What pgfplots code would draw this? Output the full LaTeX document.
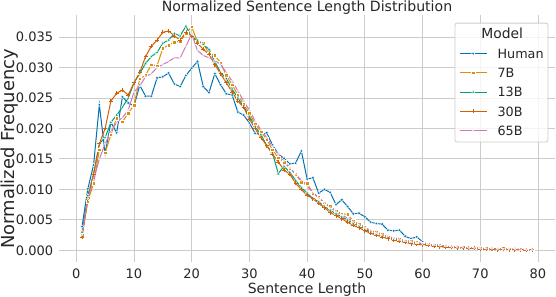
\documentclass[border=0pt]{standalone}
\usepackage{fontspec}
\setmainfont{DejaVu Sans}
\usepackage{pgfplots}
\usepackage{pgfplotstable}
\pgfplotsset{compat=1.18}
\definecolor{cHum}{HTML}{0173B2}
\definecolor{cSeven}{HTML}{DE8F05}
\definecolor{cThirteen}{HTML}{029E73}
\definecolor{cThirty}{HTML}{D55E00}
\definecolor{cSixtyFive}{HTML}{CC78BC}
\definecolor{gridc}{HTML}{CCCCCC}
\definecolor{txt}{HTML}{262626}

\pgfplotstableread{
x human b7 b13 b30 b65
1 0.0039 0.0025 0.0030 0.0022 0.0025
2 0.0101 0.0080 0.0090 0.0085 0.0085
3 0.0140 0.0110 0.0125 0.0125 0.0115
4 0.0239 0.0165 0.0175 0.0175 0.0150
5 0.0159 0.0160 0.0185 0.0200 0.0175
6 0.0210 0.0190 0.0210 0.0245 0.0195
7 0.0193 0.0217 0.0222 0.0258 0.0210
8 0.0252 0.0211 0.0235 0.0263 0.0218
9 0.0242 0.0225 0.0250 0.0255 0.0230
10 0.0237 0.0238 0.0275 0.0275 0.0260
11 0.0271 0.0282 0.0290 0.0292 0.0270
12 0.0253 0.0287 0.0307 0.0318 0.0285
13 0.0253 0.0305 0.0318 0.0335 0.0290
14 0.0283 0.0303 0.0325 0.0345 0.0300
15 0.0285 0.0332 0.0340 0.0358 0.0305
16 0.0291 0.0337 0.0345 0.0360 0.0310
17 0.0273 0.0342 0.0356 0.0352 0.0316
18 0.0269 0.0343 0.0352 0.0345 0.0316
19 0.0287 0.0356 0.0368 0.0358 0.0335
20 0.0299 0.0367 0.0350 0.0352 0.0355
21 0.0310 0.0342 0.0345 0.0340 0.0328
22 0.0269 0.0340 0.0338 0.0330 0.0320
23 0.0259 0.0323 0.0330 0.0322 0.0316
24 0.0290 0.0320 0.0310 0.0305 0.0312
25 0.0272 0.0308 0.0292 0.0290 0.0305
26 0.0257 0.0287 0.0282 0.0275 0.0292
27 0.0255 0.0272 0.0265 0.0260 0.0278
28 0.0227 0.0255 0.0250 0.0245 0.0262
29 0.0222 0.0240 0.0236 0.0235 0.0245
30 0.0209 0.0225 0.0220 0.0215 0.0230
31 0.0192 0.0208 0.0203 0.0200 0.0212
32 0.0190 0.0195 0.0190 0.0185 0.0198
33 0.0193 0.0182 0.0172 0.0172 0.0185
34 0.0173 0.0165 0.0160 0.0158 0.0170
35 0.0158 0.0152 0.0126 0.0145 0.0158
36 0.0151 0.0145 0.0138 0.0132 0.0147
37 0.0142 0.0135 0.0128 0.0125 0.0135
38 0.0143 0.0125 0.0115 0.0110 0.0125
39 0.0163 0.0112 0.0103 0.0100 0.0115
40 0.0117 0.0110 0.0094 0.0090 0.0105
41 0.0119 0.0094 0.0085 0.0085 0.0095
42 0.0094 0.0087 0.0080 0.0077 0.0086
43 0.0100 0.0078 0.0072 0.0070 0.0078
44 0.0095 0.0072 0.0066 0.0062 0.0070
45 0.0075 0.0065 0.0060 0.0057 0.0064
46 0.0083 0.0060 0.0055 0.0052 0.0058
47 0.0072 0.0059 0.0050 0.0046 0.0053
48 0.0060 0.0048 0.0044 0.0041 0.0047
49 0.0061 0.0043 0.0040 0.0037 0.0042
50 0.0055 0.0038 0.0035 0.0032 0.0037
51 0.0046 0.0031 0.0029 0.0028 0.0033
52 0.0044 0.0030 0.0027 0.0025 0.0029
53 0.0043 0.0026 0.0023 0.0022 0.0026
54 0.0033 0.0022 0.0021 0.0019 0.0023
55 0.0032 0.0021 0.0019 0.0017 0.0020
56 0.0033 0.0018 0.0016 0.0015 0.0018
57 0.0023 0.0016 0.0014 0.0013 0.0016
58 0.0019 0.0015 0.0013 0.0011 0.0014
59 0.0022 0.0013 0.0011 0.0010 0.0012
60 0.0014 0.0011 0.0010 0.0009 0.0011
61 0.0009 0.0010 0.0009 0.0008 0.0010
62 0.0008 0.0008 0.0008 0.0007 0.0009
63 0.0009 0.0008 0.0006 0.0006 0.0008
64 0.0006 0.0007 0.0006 0.0005 0.0007
65 0.0005 0.0006 0.0005 0.0005 0.0006
66 0.0004 0.0005 0.0005 0.0004 0.0005
67 0.0004 0.0005 0.0004 0.0004 0.0005
68 0.0003 0.0004 0.0003 0.0003 0.0004
69 0.0003 0.0004 0.0004 0.0003 0.0004
70 0.0002 0.0003 0.0003 0.0002 0.0003
71 0.0002 0.0003 0.0002 0.0002 0.0003
72 0.0003 0.0002 0.0003 0.0002 0.0003
73 0.0002 0.0002 0.0002 0.0001 0.0002
74 0.0001 0.0003 0.0002 0.0002 0.0002
75 0.0002 0.0002 0.0001 0.0001 0.0002
76 0.0001 0.0001 0.0002 0.0001 0.0002
77 nan 0.0002 0.0001 0.0001 0.0001
78 nan 0.0001 0.0001 0.0000 0.0001
79 nan 0.0001 0.0001 0.0001 0.0001
}\datatable

\begin{document}
\begin{tikzpicture}
\begin{axis}[
  scale only axis,
  clip=false,
  width=495.4pt, height=246.3pt,
  xmin=-2.94, xmax=82.9,
  ymin=-0.00184, ymax=0.0386,
  xtick={0,10,20,30,40,50,60,70,80},
  ytick={0,0.005,0.01,0.015,0.02,0.025,0.03,0.035},
  scaled y ticks=false,
  /pgf/number format/assume math mode=true,
  tick label style={font=\fontsize{13}{15}\selectfont, text=txt, inner sep=0pt},
  xticklabel style={anchor=north},
  yticklabel style={anchor=east, /pgf/number format/fixed, /pgf/number format/fixed zerofill, /pgf/number format/precision=3},
  xticklabel shift=6.8pt,
  yticklabel shift=6pt,
  major tick length=0pt,
  axis line style={draw=none},
  grid=major,
  major grid style={draw=gridc, line width=0.9pt},
  xlabel={Sentence Length},
  xlabel style={at={(axis description cs:0.5,0)}, anchor=base, yshift=-32.2pt, font=\fontsize{14}{16}\selectfont, text=txt, inner sep=0pt},
  ylabel={Normalized Frequency},
  ylabel style={at={([xshift=-44.3pt]axis description cs:0,0.457)}, anchor=base, font=\fontsize{17.9}{20}\selectfont, text=txt, inner sep=0pt},
  legend cell align=left,
  legend style={at={(rel axis cs:1,1)}, anchor=north east, xshift=-6.4pt, yshift=-7.5pt,
    draw=gridc, line width=0.8pt, rounded corners=2pt, fill=white, fill opacity=0.8, text opacity=1, draw opacity=1,
    font=\fontsize{12.75}{15}\selectfont, text=txt,
    inner xsep=4.3pt, inner ysep=1.5pt, row sep=0pt, column sep=10.6pt,
    nodes={inner xsep=0pt, inner ysep=5pt, text height=9.3pt, text depth=0pt}},
  legend image code/.code={\draw[mark repeat=2,mark phase=2,fill opacity=1,line width=1pt,rounded corners=0pt] plot coordinates {(0pt,0pt) (13.35pt,0pt) (26.7pt,0pt)};},
]
\addlegendimage{empty legend}
\addlegendentry{\hspace*{-16.3pt}\fontsize{13.9}{15}\selectfont Model}
\addplot[cHum, line width=1pt, mark=*, mark size=1.6pt, mark options={draw=white, fill=cHum, line width=0.4pt}] table[x=x, y=human] {\datatable};
\addlegendentry{Human}
\addplot[cSeven, line width=1pt, mark=square*, mark size=1.8pt, mark options={draw=white, fill=cSeven, line width=0.4pt}] table[x=x, y=b7] {\datatable};
\addlegendentry{7B}
\addplot[cThirteen, line width=1pt, mark=triangle*, mark size=1.9pt, mark options={draw=white, fill=cThirteen, line width=0.4pt}] table[x=x, y=b13] {\datatable};
\addlegendentry{13B}
\addplot[cThirty, line width=1pt, mark=+, mark size=2pt, mark options={draw=cThirty, line width=0.8pt}] table[x=x, y=b30] {\datatable};
\addlegendentry{30B}
\addplot[cSixtyFive, line width=1pt, mark=*, mark size=1.0pt, mark options={draw=white, fill=cSixtyFive, line width=0.4pt}] table[x=x, y=b65] {\datatable};
\addlegendentry{65B}
\node[anchor=base, yshift=3.5pt, inner sep=0pt, text=txt, font=\fontsize{14.1}{16}\selectfont] at (rel axis cs:0.5,1) {Normalized Sentence Length Distribution};
\coordinate (SW) at (rel axis cs:0,0);
\coordinate (NE) at (rel axis cs:1,1);
\end{axis}
\pgfresetboundingbox
\path ([shift={(-59.3pt,-34.5pt)}]SW) rectangle ([shift={(1.3pt,15.2pt)}]NE);
\end{tikzpicture}
\end{document}
